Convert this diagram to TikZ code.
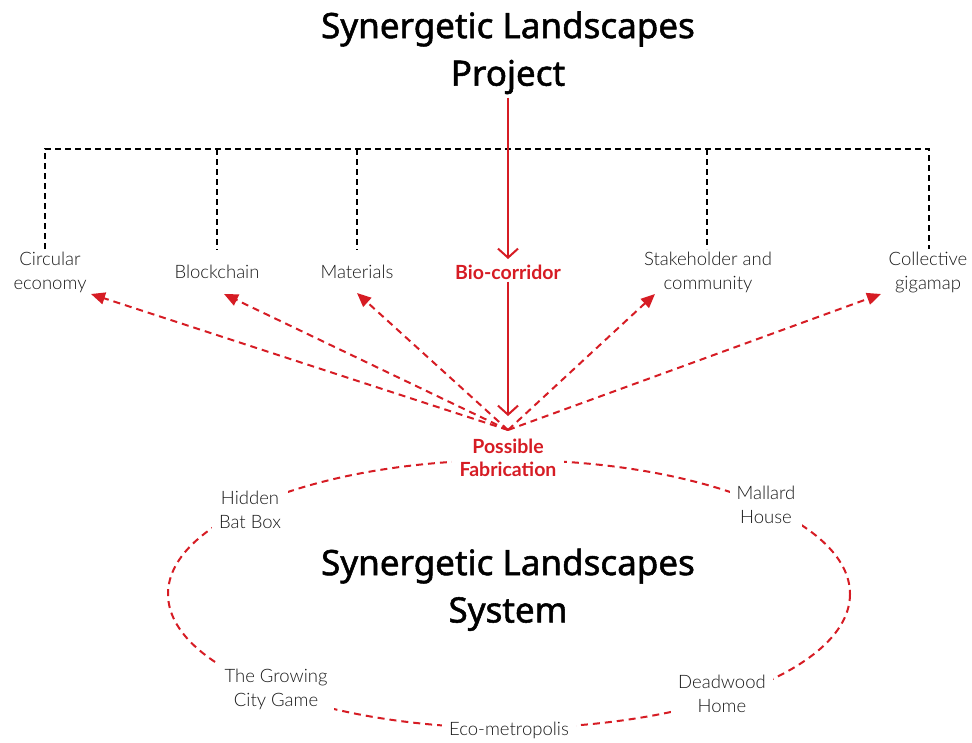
\documentclass[tikz,border=0pt]{standalone}
\usepackage{fontspec}
\setmainfont{Lato}
\newfontfamily\lightfont{Lato Light}
\newfontfamily\titlefont[FakeBold=1.5]{Noto Sans}
\usetikzlibrary{arrows.meta}
\definecolor{accent}{RGB}{214,28,36}
\definecolor{ink}{RGB}{25,25,25}
\tikzset{
  titletext/.style={font=\titlefont\fontsize{35}{36}\selectfont, text=black, align=center},
  label/.style={font=\lightfont\fontsize{18.5}{24}\selectfont, text=ink, align=center, inner sep=2pt},
  keylabel/.style={font=\bfseries\fontsize{19.5}{23}\selectfont, text=accent, align=center, inner sep=2pt},
  ringlabel/.style={label, fill=white, inner sep=7pt},
  treeline/.style={draw=black, line width=1.8pt, dash pattern=on 6pt off 4pt},
  mainflow/.style={draw=accent, line width=2pt, -{Straight Barb[length=9pt,width=20pt,line width=2pt]}},
  spread/.style={draw=accent, line width=2pt, dash pattern=on 7pt off 5pt, -{Triangle[length=14pt,width=12pt]}},
  ring/.style={draw=accent, line width=2pt, dash pattern=on 7pt off 5pt},
}
\begin{document}
\begin{tikzpicture}[x=1pt,y=-1pt]
\useasboundingbox (0,0) rectangle (972,742);

% headings
\node[titletext] (t1) at (508,29) {Synergetic Landscapes};
\node[titletext] (t2) at (508,77) {Project};
\node[titletext] (t3) at (508,566) {Synergetic Landscapes};
\node[titletext] (t4) at (508,614) {System};

% branch labels
\node[label] (ce) at (50,272) {Circular\\economy};
\node[label] (bc) at (217,272) {Blockchain};
\node[label] (mat) at (357,272) {Materials};
\node[keylabel] (bio) at (508,272) {Bio-corridor};
\node[label] (sh) at (708,272) {Stakeholder and\\community};
\node[label] (cg) at (928,272) {Collective\\gigamap};

% dashed tree joining the branches
\coordinate (top) at (0,149);
\coordinate (ceTop) at (45,249);
\coordinate (cgTop) at (929,249);
\draw[treeline] (ceTop) -- (ceTop |- top) -- (cgTop |- top) -- (cgTop);
\draw[treeline] (bc.north |- top) -- (217,250);
\draw[treeline] (mat.north |- top) -- (357,250);
\draw[treeline] (707,149) -- (707,249);

% central flow
\coordinate (bioIn) at (508,259);
\draw[mainflow] (t2.south) -- (bioIn);
\coordinate (hub) at (508,430);
\coordinate (pfIn) at (508,416);
\draw[mainflow] (bio.south) -- (pfIn);

% ring of projects
\draw[ring] (509,594) ellipse [x radius=341, y radius=134];
\node[ringlabel] (hb) at (250,510) {Hidden\\Bat Box};
\node[ringlabel] (mh) at (766,505) {Mallard\\House};
\node[ringlabel] (gc) at (276,689) {The Growing\\City Game};
\node[ringlabel] (dh) at (722,694) {Deadwood\\Home};
\node[ringlabel, inner ysep=3pt] (em) at (509,730) {Eco-metropolis};
\node[keylabel, fill=white, inner xsep=8pt, inner ysep=4pt] (pf) at (508,458) {Possible\\Fabrication};

% fabrication feeding back into the branches
\coordinate (ceIn) at (91,294);
\coordinate (bcIn) at (224,294);
\coordinate (matIn) at (357,293);
\coordinate (shIn) at (655,294);
\coordinate (cgIn) at (881,294);
\draw[spread] (hub) -- (ceIn);
\draw[spread] (hub) -- (bcIn);
\draw[spread] (hub) -- (matIn);
\draw[spread] (hub) -- (shIn);
\draw[spread] (hub) -- (cgIn);
\end{tikzpicture}
\end{document}
